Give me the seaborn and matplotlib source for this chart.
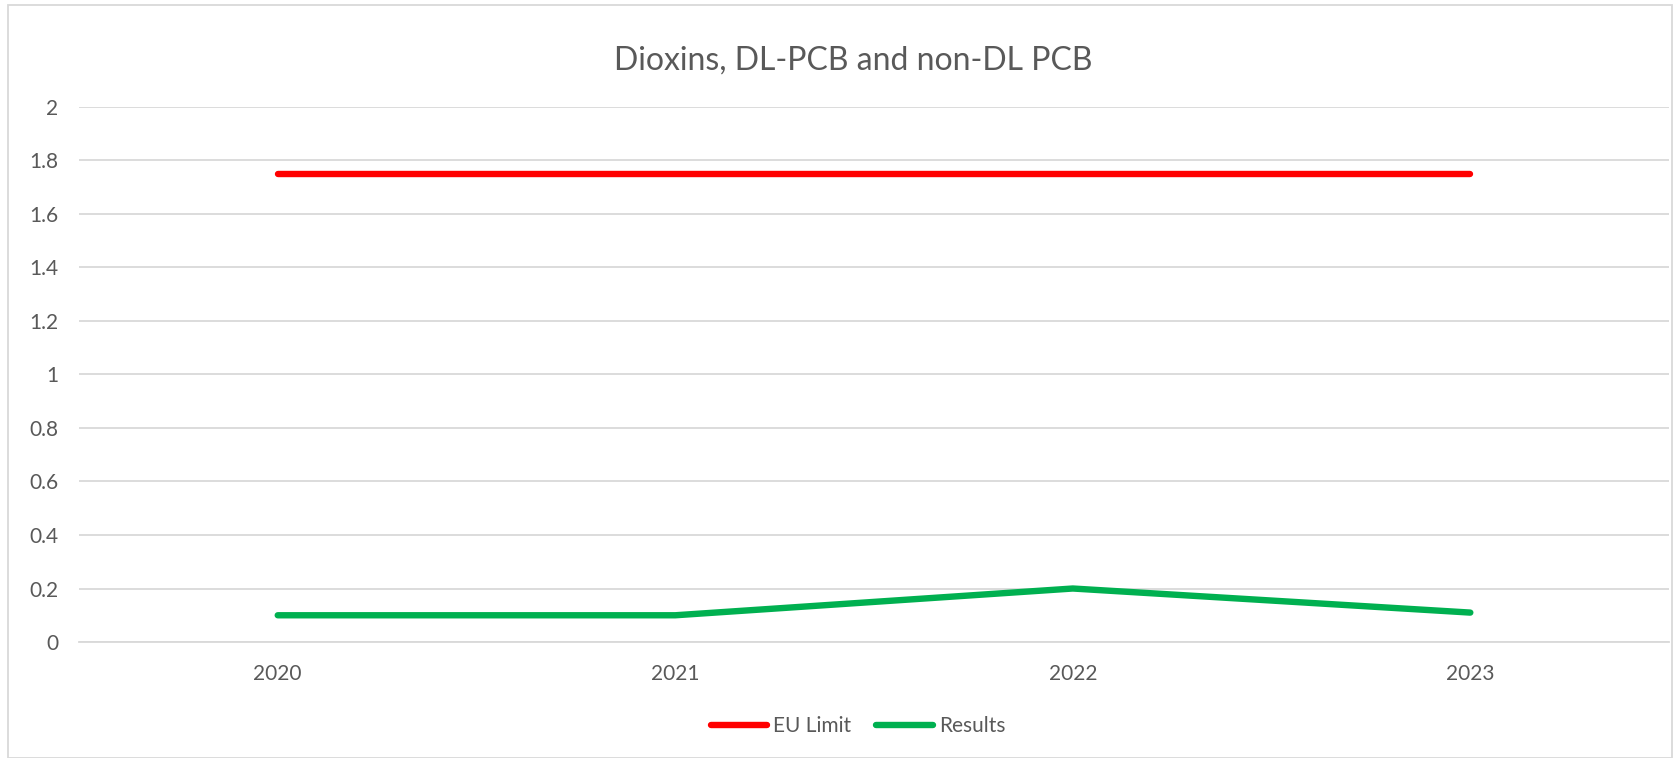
import matplotlib
matplotlib.use('Agg')
import matplotlib.pyplot as plt
import seaborn as sns
import pandas as pd

years = ['2020', '2021', '2022', '2023']
eu_limit = [1.75, 1.75, 1.75, 1.75]
results = [0.1, 0.1, 0.2, 0.11]
series_names = ['EU Limit', 'Results']
colors = ['#FF0000', '#00B050']

df = pd.DataFrame({
    'Year': years * 2,
    'Value': eu_limit + results,
    'Series': [series_names[0]] * 4 + [series_names[1]] * 4,
})

sns.set_style('white')
plt.rcParams['font.family'] = ['Lato', 'DejaVu Sans']

fig = plt.figure(figsize=(16.8, 7.58), dpi=100)
ax = fig.add_axes([0.047, 0.153, 0.9465, 0.706])

sns.lineplot(data=df, x='Year', y='Value', hue='Series', palette=colors,
             linewidth=4.6, ax=ax, sort=False, solid_capstyle='round')

ax.set_xlim(-0.5, 3.5)
ax.set_ylim(0, 2)
ax.set_yticks([0, 0.2, 0.4, 0.6, 0.8, 1, 1.2, 1.4, 1.6, 1.8, 2])
ax.set_yticklabels(['0', '0.2', '0.4', '0.6', '0.8', '1', '1.2', '1.4', '1.6', '1.8', '2'])
ax.grid(axis='y', color='#D9D9D9', linewidth=1.3)
ax.set_axisbelow(True)
for s in ['top', 'right', 'left']:
    ax.spines[s].set_visible(False)
ax.spines['bottom'].set_color('#D9D9D9')
ax.spines['bottom'].set_linewidth(1.3)
ax.tick_params(axis='both', length=0, labelsize=15, colors='#595959')
ax.tick_params(axis='x', pad=16)
ax.tick_params(axis='y', pad=15)
ax.set_xlabel('')
ax.set_ylabel('')

fig.suptitle('Dioxins, DL-PCB and non-DL PCB', x=0.508, y=0.94, fontsize=23, color='#595959')

leg = ax.legend(loc='center', bbox_to_anchor=(0.49, -0.157), ncol=2, frameon=False,
                fontsize=15, handlelength=2.7, handletextpad=0.3, columnspacing=1.2)
for t in leg.get_texts():
    t.set_color('#595959')

# chart border like the Excel frame
fig.patches.append(plt.Rectangle((0.005, 0.0), 0.99, 0.993, transform=fig.transFigure,
                                 fill=False, edgecolor='#D9D9D9', linewidth=1.3))

fig.savefig('out.png', dpi=100)
